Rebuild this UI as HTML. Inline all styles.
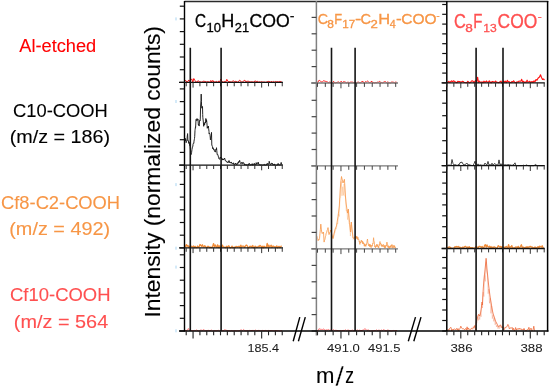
<!DOCTYPE html>
<html><head><meta charset="utf-8"><style>
html,body{margin:0;padding:0;background:#fff;}
svg{display:block;}
</style></head><body>
<svg width="550" height="388" viewBox="0 0 550 388">
<rect width="550" height="388" fill="#fff"/>
<polyline points="184.80,80.93 185.80,80.47 186.80,81.95 187.80,81.61 188.80,79.94 189.80,81.64 190.80,80.07 191.80,78.86 192.80,82.37 193.80,78.53 194.80,80.28 195.80,81.79 196.80,82.17 197.80,80.84 198.80,81.12 199.80,81.77 200.80,81.84 201.80,82.21 202.80,81.54 203.80,81.13 204.80,81.46 205.80,81.57 206.80,82.10 207.80,81.52 208.80,81.89 209.80,82.37 210.80,80.47 211.80,81.99 212.80,80.37 213.80,82.03 214.80,81.89 215.80,81.88 216.80,81.48 217.80,82.37 218.80,81.09 219.80,82.01 220.80,78.99 221.80,81.42 222.80,81.86 223.80,82.17 224.80,81.45 225.80,81.94 226.80,79.36 227.80,81.18 228.80,81.58 229.80,81.66 230.80,81.88 231.80,81.97 232.80,81.02 233.80,80.96 234.80,81.92 235.80,81.22 236.80,81.79 237.80,82.37 238.80,80.87 239.80,80.12 240.80,81.60 241.80,82.14 242.80,81.73 243.80,80.89 244.80,80.16 245.80,81.83 246.80,81.28 247.80,81.29 248.80,81.34 249.80,81.89 250.80,81.95 251.80,81.76 252.80,81.96 253.80,82.21 254.80,80.94 255.80,81.23 256.80,81.58 257.80,81.38 258.80,82.24 259.80,81.72 260.80,82.18 261.80,81.60 262.80,82.18 263.80,82.01 264.80,82.08 265.80,82.34 266.80,81.93 267.80,81.52 268.80,81.40 269.80,81.66 270.80,82.15 271.80,81.26 272.80,82.36 273.80,81.44 274.80,82.23 275.80,81.43 276.80,81.89 277.80,81.57 278.80,81.97 279.80,81.39 280.80,81.54 281.80,82.07" fill="none" stroke="#FF1010" stroke-width="1.0" stroke-linejoin="round"/>
<polyline points="184.80,139.60 185.25,141.06 185.50,138.50 185.70,139.14 186.15,142.70 186.50,141.70 186.60,141.03 187.05,140.17 187.20,137.00 187.50,134.45 187.60,133.60 187.95,140.67 188.00,140.30 188.40,140.98 188.85,143.44 189.00,142.00 189.30,142.84 189.75,145.55 190.00,144.80 190.20,146.88 190.50,150.00 190.65,152.75 191.00,154.70 191.10,154.16 191.55,152.71 192.00,149.30 192.45,147.10 192.90,146.09 193.00,144.40 193.35,143.28 193.80,143.38 194.00,141.20 194.25,139.85 194.50,138.50 194.70,136.72 195.00,130.40 195.15,129.32 195.50,126.80 195.60,127.37 196.00,119.50 196.05,119.45 196.50,120.59 196.95,118.65 197.00,118.60 197.40,120.39 197.85,118.94 198.00,119.00 198.30,124.50 198.50,124.00 198.75,125.00 199.00,126.00 199.20,126.02 199.50,121.00 199.65,120.44 200.10,121.02 200.30,118.00 200.55,108.00 200.60,106.00 201.00,100.67 201.20,94.10 201.45,101.54 201.60,106.00 201.90,108.21 202.35,106.42 202.50,106.50 202.70,114.50 202.80,117.27 203.25,121.03 203.50,124.00 203.70,126.31 204.15,123.25 204.60,125.03 204.80,122.50 205.05,122.25 205.30,122.00 205.50,123.07 205.80,118.50 205.95,118.78 206.40,122.05 206.50,119.80 206.85,122.32 207.30,128.30 207.50,127.00 207.75,126.69 208.20,128.00 208.30,126.00 208.65,128.75 209.00,131.50 209.10,134.05 209.55,133.26 210.00,134.70 210.45,139.85 210.50,138.70 210.90,137.16 211.20,136.00 211.35,136.11 211.50,132.40 211.80,145.00 212.25,146.16 212.50,146.80 212.70,148.70 213.15,147.80 213.60,149.71 214.00,149.10 214.05,149.24 214.50,151.42 214.95,151.66 215.00,151.80 215.40,151.99 215.85,149.42 216.00,149.00 216.30,149.83 216.50,147.70 216.75,150.35 217.00,153.00 217.20,154.73 217.65,154.30 218.00,155.00 218.10,156.43 218.55,156.54 219.00,159.03 219.45,159.06 219.50,159.20 219.90,158.97 220.30,157.00 220.35,157.01 220.80,158.04 221.00,157.20 221.25,157.52 221.70,159.09 222.00,158.50 222.15,158.57 222.60,160.08 223.05,158.96 223.50,160.02 223.60,159.20 223.95,158.73 224.40,158.96 224.50,158.00 224.85,158.88 225.30,160.77 225.50,160.50 225.75,160.67 226.20,161.68 226.65,161.27 226.70,161.30 227.10,162.55 227.55,162.15 227.70,162.30 228.00,162.93 228.45,161.26 228.90,161.89 229.00,160.50 229.35,161.20 229.80,162.98 230.00,162.50 230.25,162.40 230.70,163.13 231.15,162.06 231.30,162.00 231.60,163.22 232.05,162.94 232.50,163.50 232.95,164.02 233.40,162.87 233.50,162.80 233.85,164.62 234.30,164.40 234.40,164.60 234.75,165.05 235.20,163.44 235.50,163.00 235.65,163.98 236.10,163.72 236.50,164.20 236.55,164.83 237.00,163.63 237.45,164.26 237.90,162.61 238.00,162.50 238.35,163.15 238.80,161.40 239.25,162.04 239.60,160.30 239.70,160.62 240.15,162.89 240.50,163.20 240.60,163.13 241.05,163.81 241.50,162.50 241.95,162.45 242.40,163.65 242.85,162.34 243.20,162.30 243.30,163.46 243.75,162.96 244.20,163.51 244.65,165.10 245.10,164.34 245.20,164.43 245.55,165.10 246.00,164.56 246.20,164.59 246.45,165.10 246.90,164.74 247.20,164.80 247.35,165.10 247.80,164.75 248.20,164.71 248.25,165.10 248.70,163.97 249.15,163.95 249.20,163.22 249.60,163.85 250.05,165.10 250.20,164.80 250.50,164.79 250.95,165.10 251.20,164.76 251.40,164.53 251.85,165.10 252.20,163.64 252.30,163.75 252.75,165.10 253.20,164.80 253.65,164.07 254.10,164.59 254.20,163.19 254.55,163.75 255.00,165.10 255.20,164.80 255.45,164.26 255.90,164.55 256.20,162.63 256.35,162.82 256.80,164.49 257.20,163.88 257.25,163.78 257.70,163.83 258.15,162.14 258.20,162.05 258.60,164.20 259.05,163.93 259.20,164.26 259.50,165.10 259.95,164.66 260.20,164.80 260.40,165.10 260.85,164.80 261.20,164.80 261.30,165.10 261.75,164.80 262.20,164.80 262.65,165.10 263.10,164.80 263.20,164.80 263.55,165.10 264.00,164.42 264.20,164.32 264.45,165.10 264.90,164.66 265.20,164.80 265.35,165.10 265.80,164.80 266.20,164.80 266.25,165.10 266.70,164.08 267.15,164.13 267.20,163.36 267.60,163.64 268.05,164.90 268.20,164.05 268.50,163.21 268.95,162.72 269.20,161.25 269.40,161.85 269.85,164.20 270.20,164.28 270.30,164.17 270.75,164.83 271.20,163.22 271.65,163.21 272.10,164.00 272.20,163.20 272.55,163.76 273.00,165.10 273.20,164.80 273.45,164.56 273.90,165.10 274.20,163.86 274.35,164.00 274.80,165.10 275.20,164.80 275.25,164.80 275.70,165.10 276.15,164.80 276.20,164.80 276.60,165.10 277.05,164.80 277.20,164.80 277.50,165.10 277.95,163.72 278.20,163.36 278.40,164.84 278.85,164.29 279.20,164.80 279.30,165.10 279.75,164.80 280.20,164.80 280.65,164.62 281.10,162.66 281.20,162.42 281.55,164.33 282.00,164.32 282.20,164.80" fill="none" stroke="#1a1a1a" stroke-width="0.95" stroke-linejoin="round"/>
<polyline points="184.80,246.22 185.60,246.53 186.40,244.58 187.20,246.22 188.00,245.43 188.80,247.29 189.60,246.63 190.40,246.08 191.20,246.14 192.00,246.81 192.80,246.52 193.60,246.02 194.40,247.71 195.20,246.42 196.00,247.51 196.80,247.70 197.60,246.00 198.40,247.24 199.20,246.64 200.00,244.51 200.80,245.29 201.60,246.51 202.40,244.75 203.20,246.59 204.00,246.86 204.80,245.71 205.60,246.57 206.40,247.45 207.20,247.29 208.00,246.26 208.80,246.67 209.60,247.68 210.40,247.14 211.20,247.38 212.00,247.51 212.80,245.71 213.60,243.59 214.40,246.99 215.20,244.96 216.00,246.53 216.80,247.25 217.60,244.80 218.40,247.60 219.20,245.78 220.00,247.88 220.80,246.14 221.60,247.26 222.40,245.05 223.20,246.97 224.00,247.00 224.80,247.30 225.60,247.57 226.40,246.29 227.20,247.63 228.00,246.20 228.80,245.73 229.60,247.37 230.40,247.82 231.20,247.35 232.00,246.07 232.80,247.83 233.60,247.43 234.40,247.20 235.20,247.59 236.00,246.38 236.80,246.66 237.60,247.01 238.40,246.46 239.20,246.26 240.00,247.70 240.80,245.09 241.60,247.16 242.40,246.14 243.20,246.11 244.00,246.46 244.80,247.31 245.60,245.80 246.40,245.06 247.20,245.78 248.00,247.80 248.80,247.62 249.60,246.43 250.40,246.37 251.20,246.26 252.00,247.42 252.80,245.53 253.60,247.87 254.40,247.65 255.20,246.18 256.00,246.69 256.80,247.46 257.60,247.17 258.40,246.20 259.20,246.74 260.00,245.40 260.80,246.00 261.60,247.59 262.40,246.21 263.20,247.88 264.00,246.08 264.80,247.04 265.60,247.06 266.40,247.22 267.20,243.35 268.00,247.15 268.80,245.09 269.60,246.95 270.40,246.19 271.20,245.21 272.00,247.47 272.80,246.06 273.60,246.14 274.40,246.80 275.20,246.79 276.00,247.16 276.80,245.91 277.60,247.89 278.40,246.70 279.20,246.33 280.00,247.73 280.80,246.64 281.60,245.73" fill="none" stroke="#F08C38" stroke-width="1.3" stroke-linejoin="round"/>
<polyline points="184.80,330.55 186.00,330.43 187.20,330.45 188.40,328.49 189.60,330.46 190.80,330.14 192.00,330.85 193.20,330.66 194.40,330.45 195.60,330.54 196.80,329.89 198.00,330.92 199.20,330.92 200.40,330.17 201.60,330.15 202.80,330.48 204.00,329.51 205.20,330.88 206.40,330.59 207.60,330.46 208.80,330.33 210.00,330.90 211.20,329.90 212.40,331.00 213.60,330.80 214.80,330.51 216.00,330.81 217.20,330.58 218.40,330.30 219.60,330.99 220.80,330.49 222.00,330.40 223.20,330.99 224.40,329.76 225.60,330.03 226.80,330.44 228.00,330.79 229.20,330.69 230.40,330.94 231.60,330.52 232.80,330.98 234.00,330.95 235.20,330.63 236.40,330.80 237.60,330.67 238.80,330.81 240.00,330.43 241.20,329.78 242.40,330.90 243.60,329.49 244.80,330.68 246.00,330.86 247.20,330.50 248.40,330.75 249.60,330.40 250.80,330.50 252.00,330.48 253.20,330.43 254.40,330.53 255.60,330.13 256.80,330.82 258.00,330.40 259.20,330.41 260.40,330.71 261.60,330.71 262.80,330.40 264.00,330.91 265.20,330.41 266.40,330.62 267.60,330.80 268.80,330.38 270.00,330.78 271.20,330.54 272.40,330.60 273.60,330.78 274.80,330.83 276.00,330.54 277.20,330.82 278.40,330.61 279.60,330.99 280.80,330.85 282.00,330.72" fill="none" stroke="#ff5a5a" stroke-width="0.8" stroke-linejoin="round"/>
<polyline points="316.60,82.18 317.60,82.74 318.60,80.70 319.60,80.35 320.60,81.39 321.60,81.97 322.60,81.72 323.60,80.79 324.60,81.05 325.60,81.39 326.60,81.66 327.60,82.05 328.60,82.64 329.60,82.09 330.60,82.36 331.60,82.19 332.60,82.97 333.60,81.39 334.60,82.70 335.60,82.91 336.60,82.47 337.60,82.19 338.60,81.94 339.60,82.86 340.60,81.68 341.60,81.56 342.60,82.98 343.60,81.57 344.60,81.89 345.60,82.24 346.60,82.95 347.60,82.25 348.60,82.30 349.60,82.75 350.60,82.11 351.60,82.11 352.60,82.17 353.60,82.48 354.60,82.29 355.60,82.91 356.60,82.73 357.60,82.22 358.60,82.14 359.60,82.64 360.60,82.54 361.60,82.07 362.60,81.03 363.60,82.73 364.60,82.52 365.60,81.61 366.60,82.04 367.60,81.07 368.60,82.03 369.60,82.62 370.60,82.68 371.60,81.01 372.60,82.71 373.60,82.48 374.60,82.94 375.60,82.54 376.60,82.64 377.60,82.15 378.60,82.17 379.60,81.43 380.60,82.22 381.60,82.51 382.60,82.90 383.60,82.20 384.60,81.73 385.60,81.73 386.60,82.90 387.60,81.99 388.60,82.37 389.60,82.87 390.60,82.92 391.60,82.09 392.60,82.11 393.60,82.31 394.60,82.86 395.60,82.09 396.60,82.22" fill="none" stroke="#FF1010" stroke-width="1.0" stroke-linejoin="round"/>
<polyline points="316.80,236.00 317.25,237.87 317.70,238.57 318.15,240.70 318.20,240.00 318.60,239.57 319.05,239.90 319.50,238.60 319.95,233.58 320.40,229.30 320.80,224.10 320.85,224.54 321.30,229.06 321.75,232.36 321.80,232.80 322.20,233.56 322.65,232.50 323.10,233.25 323.50,232.20 323.55,233.03 324.00,241.21 324.10,242.10 324.45,240.61 324.90,239.44 325.35,236.77 325.80,235.47 326.00,234.00 326.25,233.20 326.70,232.26 327.15,230.32 327.60,229.57 328.00,227.60 328.05,227.95 328.50,231.89 328.95,234.25 329.00,234.60 329.40,233.91 329.85,231.99 330.30,231.51 330.50,230.00 330.75,230.75 331.20,232.72 331.50,233.00" fill="none" stroke="#F79646" stroke-width="0.8" stroke-linejoin="round"/>
<polyline points="331.50,233.56 332.20,237.33 332.90,238.30 333.60,237.65 334.30,232.60 335.00,232.75 335.70,228.46 336.40,229.03 337.10,223.11 337.80,223.76 338.50,213.86 339.20,216.48 339.90,198.62 340.60,197.56 341.30,181.37 342.00,195.83 342.70,186.71 343.40,195.46 344.10,183.98 344.80,196.27 345.50,196.68 346.20,211.03 346.90,210.45 347.60,219.66 348.30,209.82 349.00,223.47 349.70,224.36 350.40,236.05 351.10,225.03 351.80,231.91 352.50,233.12 353.20,239.43 353.90,238.00 354.60,239.56 355.30,236.61" fill="none" stroke="#F79646" stroke-width="0.5" stroke-linejoin="round" stroke-opacity="0.6"/>
<polyline points="331.50,233.00 333.00,238.60 335.00,229.30 336.50,225.90 338.00,216.60 339.30,206.00 340.20,190.00 340.80,182.00 341.50,176.50 342.30,180.00 343.00,183.00 343.80,181.00 344.40,179.30 345.00,188.00 345.60,198.00 346.20,204.00 347.50,213.10 348.30,209.00 349.50,222.40 350.50,232.00 351.30,222.00 352.20,230.00 353.00,238.00 354.50,238.00 355.50,235.90" fill="none" stroke="#F79646" stroke-width="0.8" stroke-linejoin="round"/>
<polyline points="355.50,235.90 355.90,238.20 356.30,236.22 356.70,238.59 357.00,236.50 357.10,236.58 357.50,239.44 357.90,237.22 358.00,237.30 358.30,239.67 358.70,239.19 359.00,240.00 359.10,241.61 359.50,241.15 359.90,244.44 360.00,242.30 360.30,241.84 360.70,242.96 361.10,240.61 361.50,240.00 361.90,242.26 362.30,240.96 362.70,243.80 363.00,241.80 363.10,241.95 363.50,244.07 363.90,243.12 364.30,246.19 364.50,244.00 364.70,244.13 365.10,246.34 365.50,244.67 365.90,246.33 366.00,245.00 366.30,243.80 366.70,244.69 367.10,240.60 367.50,239.00 367.90,243.24 368.30,243.40 368.50,244.50 368.70,245.84 369.10,244.30 369.50,246.56 369.90,244.03 370.00,244.00 370.30,246.71 370.70,244.93 371.10,247.73 371.50,246.00 371.90,245.08 372.30,246.31 372.70,243.23 372.80,243.00 373.10,243.60 373.50,238.36 373.60,237.70 373.90,240.79 374.30,241.85 374.70,246.79 375.00,246.00 375.10,245.95 375.50,247.89 375.90,245.55 376.00,245.50 376.30,246.68 376.70,244.45 377.00,244.00 377.10,246.26 377.50,244.83 377.90,247.24 378.30,246.17 378.50,246.50 378.70,247.98 379.10,244.50 379.50,245.38 379.90,241.83 380.00,241.50 380.30,244.23 380.70,243.25 381.00,244.00 381.10,245.53 381.50,244.50 381.90,246.71 382.00,245.00 382.30,244.90 382.70,246.46 383.10,244.63 383.50,244.50 383.90,247.17 384.30,245.30 384.70,248.21 385.00,246.00 385.10,245.90 385.50,247.81 385.90,245.10 386.00,245.00 386.30,246.09 386.70,242.90 387.00,242.00 387.10,243.87 387.50,243.75 387.90,247.37 388.00,245.50 388.30,245.80 388.70,247.84 389.00,246.50 389.10,246.45 389.50,248.80 389.90,246.05 390.00,246.00 390.30,247.30 390.70,245.48 391.10,247.73 391.50,244.88 391.90,245.89 392.00,244.50 392.30,245.10 392.70,248.21 393.00,246.50 393.10,246.35 393.50,247.50 393.90,245.15 394.00,245.00 394.30,247.45 394.70,245.93 395.10,248.31 395.50,247.00" fill="none" stroke="#F79646" stroke-width="0.7" stroke-linejoin="round"/>
<polyline points="316.60,330.20 317.80,330.95 319.00,328.70 320.20,329.23 321.40,329.39 322.60,329.49 323.80,328.89 325.00,330.47 326.20,329.85 327.40,329.99 328.60,329.53 329.80,330.40 331.00,329.79 332.20,330.71 333.40,329.61 334.60,330.47 335.80,330.25 337.00,330.47 338.20,330.57 339.40,330.58 340.60,330.49 341.80,330.88 343.00,330.24 344.20,330.69 345.40,329.82 346.60,330.87 347.80,330.06 349.00,330.25 350.20,330.77 351.40,330.47 352.60,330.07 353.80,330.90 355.00,330.42 356.20,330.53 357.40,329.93 358.60,330.79 359.80,330.07 361.00,330.73 362.20,330.24 363.40,330.25 364.60,328.72 365.80,329.20 367.00,330.48 368.20,329.81 369.40,330.79 370.60,331.00 371.80,330.87 373.00,330.98 374.20,330.54 375.40,330.65 376.60,329.92 377.80,330.74 379.00,329.86 380.20,330.91 381.40,330.02 382.60,330.73 383.80,329.41 385.00,330.72 386.20,330.78 387.40,330.12 388.60,330.24 389.80,330.58 391.00,330.99 392.20,330.74 393.40,330.47 394.60,330.55 395.80,330.58 397.00,330.47" fill="none" stroke="#ff5a5a" stroke-width="0.8" stroke-linejoin="round"/>
<polyline points="447.00,82.23 447.90,82.39 448.80,81.28 449.70,82.37 450.60,81.79 451.50,80.80 452.40,81.59 453.30,80.89 454.20,81.13 455.10,81.84 456.00,82.21 456.90,82.72 457.80,81.36 458.70,81.59 459.60,81.49 460.50,81.88 461.40,82.13 462.30,81.32 463.20,81.57 464.10,82.17 465.00,82.48 465.90,82.70 466.80,82.68 467.70,81.29 468.60,81.87 469.50,82.87 470.40,82.47 471.30,81.24 472.20,80.78 473.10,81.22 474.00,82.59 474.90,81.18 475.80,80.57 476.70,81.81 477.60,77.22 478.50,82.33 479.40,81.19 480.30,82.16 481.20,82.21 482.10,81.84 483.00,82.74 483.90,81.19 484.80,82.18 485.70,81.87 486.60,81.00 487.50,82.31 488.40,82.13 489.30,80.92 490.20,82.02 491.10,82.85 492.00,81.45 492.90,81.62 493.80,81.99 494.70,82.13 495.60,81.02 496.50,82.16 497.40,82.24 498.30,82.59 499.20,82.43 500.10,81.59 501.00,81.12 501.90,82.88 502.80,82.36 503.70,80.92 504.60,82.26 505.50,81.17 506.40,82.65 507.30,80.33 508.20,81.70 509.10,81.63 510.00,82.21 510.90,82.60 511.80,81.51 512.70,82.01 513.60,80.74 514.50,81.95 515.40,82.75 516.30,82.50 517.20,81.76 518.10,82.20 519.00,81.02 519.90,81.20 520.80,81.21 521.70,79.36 522.60,81.96 523.50,81.26 524.40,82.36 525.30,81.92 526.20,82.12 527.10,80.13 528.00,82.08 528.90,81.75 529.80,81.34 530.70,82.48 532.00,81.50 533.00,82.50 534.00,80.80 535.00,81.80 536.00,79.50 537.00,80.20 538.00,78.20 539.50,77.00 540.50,74.70 541.50,77.50 542.50,79.50 543.50,79.00 544.50,80.00" fill="none" stroke="#FF1010" stroke-width="1.1" stroke-linejoin="round"/>
<polyline points="447.00,165.19 448.00,165.45 449.00,164.71 450.00,165.51 451.00,165.31 452.00,159.50 453.00,163.53 454.00,164.98 455.00,164.73 456.00,164.88 457.00,165.54 458.00,164.52 459.00,164.96 460.00,162.66 461.00,162.45 462.00,162.11 463.00,164.05 464.00,165.18 465.00,164.37 466.00,164.14 467.00,163.14 468.00,164.91 469.00,164.67 470.00,165.04 471.00,165.25 472.00,165.56 473.00,165.58 474.00,163.76 475.00,161.21 476.00,165.26 477.00,165.49 478.00,163.86 479.00,165.50 480.00,164.71 481.00,165.12 482.00,165.13 483.00,165.30 484.00,165.23 485.00,163.05 486.00,164.54 487.00,164.89 488.00,161.40 489.00,164.98 490.00,164.67 491.00,165.15 492.00,163.21 493.00,165.11 494.00,164.16 495.00,163.47 496.00,164.94 497.00,164.73 498.00,165.17 499.00,159.89 500.00,165.15 501.00,163.69 502.00,165.16 503.00,164.62 504.00,165.19 505.00,164.61 506.00,165.10 507.00,164.93 508.00,164.70 509.00,164.73 510.00,165.18 511.00,164.84 512.00,165.64 513.00,164.78 514.00,164.52 515.00,162.81 516.00,165.70 517.50,165.70 519.00,165.70 520.50,165.70 522.00,165.70 523.50,165.19 525.00,165.70 526.50,164.97 528.00,165.70 529.50,165.70 531.00,165.70 532.50,165.70 534.00,165.70 535.50,164.46 537.00,165.70 538.50,165.70 540.00,165.70 541.50,165.70 543.00,165.70" fill="none" stroke="#222" stroke-width="0.85" stroke-linejoin="round"/>
<polyline points="447.00,247.05 447.80,248.19 448.60,247.20 449.40,246.98 450.20,247.27 451.00,248.18 451.80,248.14 452.60,248.37 453.40,248.34 454.20,247.76 455.00,246.65 455.80,247.19 456.60,246.46 457.40,247.13 458.20,246.42 459.00,247.34 459.80,247.13 460.60,247.70 461.40,248.39 462.20,247.45 463.00,247.19 463.80,247.65 464.60,246.62 465.40,246.37 466.20,247.04 467.00,247.70 467.80,247.02 468.60,247.96 469.40,246.72 470.20,248.44 471.00,247.55 471.80,248.01 472.60,247.65 473.40,248.27 474.20,248.11 475.00,248.42 475.80,246.59 476.60,247.10 477.40,247.04 478.20,247.82 479.00,246.39 479.80,246.40 480.60,246.75 481.40,247.40 482.20,246.49 483.00,247.79 483.80,247.97 484.60,245.37 485.40,244.73 486.20,247.39 487.00,244.97 487.80,246.77 488.60,247.09 489.40,246.30 490.20,247.92 491.00,246.53 491.80,247.79 492.60,247.20 493.40,247.37 494.20,246.95 495.00,247.18 495.80,248.02 496.60,248.21 497.40,247.58 498.20,245.67 499.00,246.35 499.80,247.13 500.60,246.38 501.40,247.58 502.20,246.52 503.00,247.22 503.80,247.69 504.60,247.26 505.40,247.24 506.20,246.53 507.00,247.32 507.80,247.67 508.60,244.75 509.40,247.81 510.20,246.98 511.00,247.13 511.80,245.67 512.60,247.96 513.40,247.79 514.20,248.19 515.00,247.57 515.80,246.97 516.60,247.05 517.40,247.70 518.20,246.37 519.00,247.97 519.80,247.75 520.60,246.30 521.40,244.71 522.20,247.88 523.00,247.07 523.80,247.40 524.60,248.14 525.40,247.17 526.20,247.95 527.00,246.62 527.80,248.00 528.60,246.83 529.40,247.02 530.20,246.36 531.00,247.00 531.80,246.89 532.60,247.40 533.40,247.82 534.20,247.64 535.00,246.93 535.80,247.77 536.60,247.87 537.40,247.18 538.20,246.58 539.00,247.79 539.80,246.15 540.60,246.77 541.40,247.14 542.20,245.72 543.00,247.66 543.80,247.62" fill="none" stroke="#F08C38" stroke-width="1.3" stroke-linejoin="round"/>
<polyline points="447.50,330.64 448.20,329.32 448.90,330.59 449.60,328.32 450.30,327.70 451.00,327.37 451.70,330.87 452.40,329.47 453.10,330.16 453.80,329.05 454.50,328.99 455.20,329.53 455.90,329.41 456.60,328.46 457.30,330.19 458.00,328.52 458.70,330.63 459.40,329.26 460.10,328.25 460.80,326.15 461.50,328.02 462.20,328.62 462.90,328.74 463.60,328.72 464.30,329.59 465.00,329.46 465.70,328.43 466.40,330.08 467.10,326.83 467.80,329.67 468.50,327.96 469.20,329.63 469.90,330.09 470.60,329.85 471.30,328.26 472.00,328.51 472.70,329.22 473.40,326.76 474.10,327.61 474.80,325.45 475.50,330.09 476.20,322.00" fill="none" stroke="#EE6A3A" stroke-width="0.8" stroke-linejoin="round"/>
<polyline points="476.20,322.53 476.90,323.19 477.60,317.13 478.30,320.40 479.00,315.31 479.70,319.57 480.40,313.47 481.10,316.81 481.80,304.07 482.50,307.99 483.20,292.10 483.90,296.55 484.60,275.43 485.30,281.40 486.00,261.62 486.70,271.74 487.40,274.62 488.10,293.68 488.80,289.04 489.50,303.28 490.20,298.25 490.90,313.33 491.60,305.98 492.30,318.63 493.00,314.90 493.70,321.39 494.40,318.03 495.10,324.78 495.80,322.33 496.50,326.95 497.20,325.09 497.90,328.65 498.60,327.06 499.30,328.72 500.00,325.45 500.70,327.39 501.40,327.08" fill="none" stroke="#EE6A3A" stroke-width="0.5" stroke-linejoin="round" stroke-opacity="0.55"/>
<polyline points="476.20,322.00 477.50,317.20 478.50,314.30 479.60,316.00 480.50,313.00 481.30,308.00 482.00,302.00 482.40,305.00 482.80,296.00 483.30,288.00 483.80,281.00 484.30,276.00 484.90,271.00 485.40,266.00 485.80,262.00 486.10,258.30 486.50,263.00 486.90,268.00 487.40,273.00 488.00,279.00 488.50,284.00 489.10,289.00 489.60,293.00 490.30,298.00 491.00,302.00 491.80,307.00 492.50,311.00 493.20,314.00 494.60,318.00 495.50,321.00 496.50,323.00 497.40,324.40 498.50,327.00 499.50,326.00 500.50,324.80 502.00,328.00" fill="none" stroke="#EE6A3A" stroke-width="0.8" stroke-linejoin="round"/>
<polyline points="502.00,328.00 503.00,326.51 503.70,329.47 504.40,329.52 505.10,327.12 505.80,327.60 506.50,327.15 507.20,326.04 507.90,324.42 508.60,325.58 509.30,328.78 510.00,327.81 510.70,328.09 511.40,328.20 512.10,327.35 512.80,330.04 513.50,328.30 514.20,330.53 514.90,330.38 515.60,327.52 516.30,329.99 517.00,328.60 517.70,329.23 518.40,329.34 519.10,328.06 519.80,329.34 520.50,328.93 521.20,328.76 521.90,330.01 522.60,329.64 523.30,330.01 524.00,328.39 524.70,330.01 525.40,330.53 526.10,330.76 526.80,330.08 527.50,329.44 528.20,329.66 528.90,327.30 529.60,330.27 530.30,329.59 531.00,328.12 531.70,330.64 532.40,330.40 533.10,329.65 533.80,326.22 534.50,330.66" fill="none" stroke="#EE6A3A" stroke-width="0.8" stroke-linejoin="round"/>
<line x1="184.50" y1="1.50" x2="548.30" y2="1.50" stroke="#2a2a2a" stroke-width="1.3"/>
<line x1="184.50" y1="1.00" x2="184.50" y2="331.60" stroke="#000" stroke-width="1.4"/>
<line x1="179.80" y1="82.40" x2="184.50" y2="82.40" stroke="#111" stroke-width="1.2"/>
<line x1="179.80" y1="69.70" x2="184.50" y2="69.70" stroke="#111" stroke-width="1.2"/>
<line x1="179.80" y1="57.00" x2="184.50" y2="57.00" stroke="#111" stroke-width="1.2"/>
<line x1="179.80" y1="44.30" x2="184.50" y2="44.30" stroke="#111" stroke-width="1.2"/>
<line x1="179.80" y1="31.60" x2="184.50" y2="31.60" stroke="#111" stroke-width="1.2"/>
<line x1="179.80" y1="18.90" x2="184.50" y2="18.90" stroke="#111" stroke-width="1.2"/>
<line x1="179.80" y1="6.20" x2="184.50" y2="6.20" stroke="#111" stroke-width="1.2"/>
<line x1="179.80" y1="165.10" x2="184.50" y2="165.10" stroke="#111" stroke-width="1.2"/>
<line x1="179.80" y1="152.40" x2="184.50" y2="152.40" stroke="#111" stroke-width="1.2"/>
<line x1="179.80" y1="139.70" x2="184.50" y2="139.70" stroke="#111" stroke-width="1.2"/>
<line x1="179.80" y1="127.00" x2="184.50" y2="127.00" stroke="#111" stroke-width="1.2"/>
<line x1="179.80" y1="114.30" x2="184.50" y2="114.30" stroke="#111" stroke-width="1.2"/>
<line x1="179.80" y1="101.60" x2="184.50" y2="101.60" stroke="#111" stroke-width="1.2"/>
<line x1="179.80" y1="88.90" x2="184.50" y2="88.90" stroke="#111" stroke-width="1.2"/>
<line x1="179.80" y1="247.90" x2="184.50" y2="247.90" stroke="#111" stroke-width="1.2"/>
<line x1="179.80" y1="235.20" x2="184.50" y2="235.20" stroke="#111" stroke-width="1.2"/>
<line x1="179.80" y1="222.50" x2="184.50" y2="222.50" stroke="#111" stroke-width="1.2"/>
<line x1="179.80" y1="209.80" x2="184.50" y2="209.80" stroke="#111" stroke-width="1.2"/>
<line x1="179.80" y1="197.10" x2="184.50" y2="197.10" stroke="#111" stroke-width="1.2"/>
<line x1="179.80" y1="184.40" x2="184.50" y2="184.40" stroke="#111" stroke-width="1.2"/>
<line x1="179.80" y1="171.70" x2="184.50" y2="171.70" stroke="#111" stroke-width="1.2"/>
<line x1="179.80" y1="331.00" x2="184.50" y2="331.00" stroke="#111" stroke-width="1.2"/>
<line x1="179.80" y1="318.30" x2="184.50" y2="318.30" stroke="#111" stroke-width="1.2"/>
<line x1="179.80" y1="305.60" x2="184.50" y2="305.60" stroke="#111" stroke-width="1.2"/>
<line x1="179.80" y1="292.90" x2="184.50" y2="292.90" stroke="#111" stroke-width="1.2"/>
<line x1="179.80" y1="280.20" x2="184.50" y2="280.20" stroke="#111" stroke-width="1.2"/>
<line x1="179.80" y1="267.50" x2="184.50" y2="267.50" stroke="#111" stroke-width="1.2"/>
<line x1="179.80" y1="254.80" x2="184.50" y2="254.80" stroke="#111" stroke-width="1.2"/>
<line x1="179.00" y1="82.40" x2="283.00" y2="82.40" stroke="#111" stroke-width="1.3"/>
<line x1="186.20" y1="82.40" x2="186.20" y2="86.30" stroke="#333" stroke-width="1.0"/>
<line x1="193.06" y1="82.40" x2="193.06" y2="87.60" stroke="#333" stroke-width="1.0"/>
<line x1="199.92" y1="82.40" x2="199.92" y2="86.30" stroke="#333" stroke-width="1.0"/>
<line x1="206.78" y1="82.40" x2="206.78" y2="86.30" stroke="#333" stroke-width="1.0"/>
<line x1="213.64" y1="82.40" x2="213.64" y2="86.30" stroke="#333" stroke-width="1.0"/>
<line x1="220.50" y1="82.40" x2="220.50" y2="86.30" stroke="#333" stroke-width="1.0"/>
<line x1="227.36" y1="82.40" x2="227.36" y2="86.30" stroke="#333" stroke-width="1.0"/>
<line x1="234.22" y1="82.40" x2="234.22" y2="86.30" stroke="#333" stroke-width="1.0"/>
<line x1="241.08" y1="82.40" x2="241.08" y2="86.30" stroke="#333" stroke-width="1.0"/>
<line x1="247.94" y1="82.40" x2="247.94" y2="86.30" stroke="#333" stroke-width="1.0"/>
<line x1="254.80" y1="82.40" x2="254.80" y2="86.30" stroke="#333" stroke-width="1.0"/>
<line x1="261.66" y1="82.40" x2="261.66" y2="87.60" stroke="#333" stroke-width="1.0"/>
<line x1="268.52" y1="82.40" x2="268.52" y2="86.30" stroke="#333" stroke-width="1.0"/>
<line x1="275.38" y1="82.40" x2="275.38" y2="86.30" stroke="#333" stroke-width="1.0"/>
<line x1="282.24" y1="82.40" x2="282.24" y2="86.30" stroke="#333" stroke-width="1.0"/>
<line x1="179.00" y1="165.10" x2="283.00" y2="165.10" stroke="#111" stroke-width="1.3"/>
<line x1="186.20" y1="165.10" x2="186.20" y2="169.00" stroke="#333" stroke-width="1.0"/>
<line x1="193.06" y1="165.10" x2="193.06" y2="170.30" stroke="#333" stroke-width="1.0"/>
<line x1="199.92" y1="165.10" x2="199.92" y2="169.00" stroke="#333" stroke-width="1.0"/>
<line x1="206.78" y1="165.10" x2="206.78" y2="169.00" stroke="#333" stroke-width="1.0"/>
<line x1="213.64" y1="165.10" x2="213.64" y2="169.00" stroke="#333" stroke-width="1.0"/>
<line x1="220.50" y1="165.10" x2="220.50" y2="169.00" stroke="#333" stroke-width="1.0"/>
<line x1="227.36" y1="165.10" x2="227.36" y2="169.00" stroke="#333" stroke-width="1.0"/>
<line x1="234.22" y1="165.10" x2="234.22" y2="169.00" stroke="#333" stroke-width="1.0"/>
<line x1="241.08" y1="165.10" x2="241.08" y2="169.00" stroke="#333" stroke-width="1.0"/>
<line x1="247.94" y1="165.10" x2="247.94" y2="169.00" stroke="#333" stroke-width="1.0"/>
<line x1="254.80" y1="165.10" x2="254.80" y2="169.00" stroke="#333" stroke-width="1.0"/>
<line x1="261.66" y1="165.10" x2="261.66" y2="170.30" stroke="#333" stroke-width="1.0"/>
<line x1="268.52" y1="165.10" x2="268.52" y2="169.00" stroke="#333" stroke-width="1.0"/>
<line x1="275.38" y1="165.10" x2="275.38" y2="169.00" stroke="#333" stroke-width="1.0"/>
<line x1="282.24" y1="165.10" x2="282.24" y2="169.00" stroke="#333" stroke-width="1.0"/>
<line x1="179.00" y1="247.90" x2="283.00" y2="247.90" stroke="#111" stroke-width="1.3"/>
<line x1="186.20" y1="247.90" x2="186.20" y2="251.80" stroke="#333" stroke-width="1.0"/>
<line x1="193.06" y1="247.90" x2="193.06" y2="253.10" stroke="#333" stroke-width="1.0"/>
<line x1="199.92" y1="247.90" x2="199.92" y2="251.80" stroke="#333" stroke-width="1.0"/>
<line x1="206.78" y1="247.90" x2="206.78" y2="251.80" stroke="#333" stroke-width="1.0"/>
<line x1="213.64" y1="247.90" x2="213.64" y2="251.80" stroke="#333" stroke-width="1.0"/>
<line x1="220.50" y1="247.90" x2="220.50" y2="251.80" stroke="#333" stroke-width="1.0"/>
<line x1="227.36" y1="247.90" x2="227.36" y2="251.80" stroke="#333" stroke-width="1.0"/>
<line x1="234.22" y1="247.90" x2="234.22" y2="251.80" stroke="#333" stroke-width="1.0"/>
<line x1="241.08" y1="247.90" x2="241.08" y2="251.80" stroke="#333" stroke-width="1.0"/>
<line x1="247.94" y1="247.90" x2="247.94" y2="251.80" stroke="#333" stroke-width="1.0"/>
<line x1="254.80" y1="247.90" x2="254.80" y2="251.80" stroke="#333" stroke-width="1.0"/>
<line x1="261.66" y1="247.90" x2="261.66" y2="253.10" stroke="#333" stroke-width="1.0"/>
<line x1="268.52" y1="247.90" x2="268.52" y2="251.80" stroke="#333" stroke-width="1.0"/>
<line x1="275.38" y1="247.90" x2="275.38" y2="251.80" stroke="#333" stroke-width="1.0"/>
<line x1="282.24" y1="247.90" x2="282.24" y2="251.80" stroke="#333" stroke-width="1.0"/>
<line x1="316.40" y1="1.00" x2="316.40" y2="335.50" stroke="#808080" stroke-width="1.5"/>
<line x1="311.60" y1="83.00" x2="316.40" y2="83.00" stroke="#444" stroke-width="1.2"/>
<line x1="311.60" y1="66.60" x2="316.40" y2="66.60" stroke="#444" stroke-width="1.2"/>
<line x1="311.60" y1="50.20" x2="316.40" y2="50.20" stroke="#444" stroke-width="1.2"/>
<line x1="311.60" y1="33.80" x2="316.40" y2="33.80" stroke="#444" stroke-width="1.2"/>
<line x1="311.60" y1="17.40" x2="316.40" y2="17.40" stroke="#444" stroke-width="1.2"/>
<line x1="311.60" y1="165.90" x2="316.40" y2="165.90" stroke="#444" stroke-width="1.2"/>
<line x1="311.60" y1="149.50" x2="316.40" y2="149.50" stroke="#444" stroke-width="1.2"/>
<line x1="311.60" y1="133.10" x2="316.40" y2="133.10" stroke="#444" stroke-width="1.2"/>
<line x1="311.60" y1="116.70" x2="316.40" y2="116.70" stroke="#444" stroke-width="1.2"/>
<line x1="311.60" y1="100.30" x2="316.40" y2="100.30" stroke="#444" stroke-width="1.2"/>
<line x1="311.60" y1="248.80" x2="316.40" y2="248.80" stroke="#444" stroke-width="1.2"/>
<line x1="311.60" y1="232.40" x2="316.40" y2="232.40" stroke="#444" stroke-width="1.2"/>
<line x1="311.60" y1="216.00" x2="316.40" y2="216.00" stroke="#444" stroke-width="1.2"/>
<line x1="311.60" y1="199.60" x2="316.40" y2="199.60" stroke="#444" stroke-width="1.2"/>
<line x1="311.60" y1="183.20" x2="316.40" y2="183.20" stroke="#444" stroke-width="1.2"/>
<line x1="311.60" y1="331.00" x2="316.40" y2="331.00" stroke="#444" stroke-width="1.2"/>
<line x1="311.60" y1="314.60" x2="316.40" y2="314.60" stroke="#444" stroke-width="1.2"/>
<line x1="311.60" y1="298.20" x2="316.40" y2="298.20" stroke="#444" stroke-width="1.2"/>
<line x1="311.60" y1="281.80" x2="316.40" y2="281.80" stroke="#444" stroke-width="1.2"/>
<line x1="311.60" y1="265.40" x2="316.40" y2="265.40" stroke="#444" stroke-width="1.2"/>
<line x1="311.20" y1="83.00" x2="398.00" y2="83.00" stroke="#7a7a7a" stroke-width="1.3"/>
<line x1="317.50" y1="83.00" x2="317.50" y2="86.90" stroke="#444" stroke-width="1.0"/>
<line x1="325.32" y1="83.00" x2="325.32" y2="86.90" stroke="#444" stroke-width="1.0"/>
<line x1="333.14" y1="83.00" x2="333.14" y2="86.90" stroke="#444" stroke-width="1.0"/>
<line x1="340.96" y1="83.00" x2="340.96" y2="88.30" stroke="#444" stroke-width="1.0"/>
<line x1="348.78" y1="83.00" x2="348.78" y2="86.90" stroke="#444" stroke-width="1.0"/>
<line x1="356.60" y1="83.00" x2="356.60" y2="86.90" stroke="#444" stroke-width="1.0"/>
<line x1="364.42" y1="83.00" x2="364.42" y2="86.90" stroke="#444" stroke-width="1.0"/>
<line x1="372.24" y1="83.00" x2="372.24" y2="86.90" stroke="#444" stroke-width="1.0"/>
<line x1="380.06" y1="83.00" x2="380.06" y2="86.90" stroke="#444" stroke-width="1.0"/>
<line x1="387.88" y1="83.00" x2="387.88" y2="86.90" stroke="#444" stroke-width="1.0"/>
<line x1="395.70" y1="83.00" x2="395.70" y2="86.90" stroke="#444" stroke-width="1.0"/>
<line x1="311.20" y1="165.90" x2="398.00" y2="165.90" stroke="#7a7a7a" stroke-width="1.3"/>
<line x1="317.50" y1="165.90" x2="317.50" y2="169.80" stroke="#444" stroke-width="1.0"/>
<line x1="325.32" y1="165.90" x2="325.32" y2="169.80" stroke="#444" stroke-width="1.0"/>
<line x1="333.14" y1="165.90" x2="333.14" y2="169.80" stroke="#444" stroke-width="1.0"/>
<line x1="340.96" y1="165.90" x2="340.96" y2="171.20" stroke="#444" stroke-width="1.0"/>
<line x1="348.78" y1="165.90" x2="348.78" y2="169.80" stroke="#444" stroke-width="1.0"/>
<line x1="356.60" y1="165.90" x2="356.60" y2="169.80" stroke="#444" stroke-width="1.0"/>
<line x1="364.42" y1="165.90" x2="364.42" y2="169.80" stroke="#444" stroke-width="1.0"/>
<line x1="372.24" y1="165.90" x2="372.24" y2="169.80" stroke="#444" stroke-width="1.0"/>
<line x1="380.06" y1="165.90" x2="380.06" y2="169.80" stroke="#444" stroke-width="1.0"/>
<line x1="387.88" y1="165.90" x2="387.88" y2="169.80" stroke="#444" stroke-width="1.0"/>
<line x1="395.70" y1="165.90" x2="395.70" y2="169.80" stroke="#444" stroke-width="1.0"/>
<line x1="311.20" y1="248.80" x2="398.00" y2="248.80" stroke="#7a7a7a" stroke-width="1.3"/>
<line x1="317.50" y1="248.80" x2="317.50" y2="252.70" stroke="#444" stroke-width="1.0"/>
<line x1="325.32" y1="248.80" x2="325.32" y2="252.70" stroke="#444" stroke-width="1.0"/>
<line x1="333.14" y1="248.80" x2="333.14" y2="252.70" stroke="#444" stroke-width="1.0"/>
<line x1="340.96" y1="248.80" x2="340.96" y2="254.10" stroke="#444" stroke-width="1.0"/>
<line x1="348.78" y1="248.80" x2="348.78" y2="252.70" stroke="#444" stroke-width="1.0"/>
<line x1="356.60" y1="248.80" x2="356.60" y2="252.70" stroke="#444" stroke-width="1.0"/>
<line x1="364.42" y1="248.80" x2="364.42" y2="252.70" stroke="#444" stroke-width="1.0"/>
<line x1="372.24" y1="248.80" x2="372.24" y2="252.70" stroke="#444" stroke-width="1.0"/>
<line x1="380.06" y1="248.80" x2="380.06" y2="252.70" stroke="#444" stroke-width="1.0"/>
<line x1="387.88" y1="248.80" x2="387.88" y2="252.70" stroke="#444" stroke-width="1.0"/>
<line x1="395.70" y1="248.80" x2="395.70" y2="252.70" stroke="#444" stroke-width="1.0"/>
<line x1="446.80" y1="1.00" x2="446.80" y2="331.60" stroke="#000" stroke-width="1.5"/>
<line x1="547.60" y1="1.00" x2="547.60" y2="331.60" stroke="#000" stroke-width="1.5"/>
<line x1="442.20" y1="82.90" x2="446.80" y2="82.90" stroke="#111" stroke-width="1.2"/>
<line x1="442.20" y1="73.10" x2="446.80" y2="73.10" stroke="#111" stroke-width="1.2"/>
<line x1="442.20" y1="63.30" x2="446.80" y2="63.30" stroke="#111" stroke-width="1.2"/>
<line x1="442.20" y1="53.50" x2="446.80" y2="53.50" stroke="#111" stroke-width="1.2"/>
<line x1="442.20" y1="43.70" x2="446.80" y2="43.70" stroke="#111" stroke-width="1.2"/>
<line x1="442.20" y1="33.90" x2="446.80" y2="33.90" stroke="#111" stroke-width="1.2"/>
<line x1="442.20" y1="24.10" x2="446.80" y2="24.10" stroke="#111" stroke-width="1.2"/>
<line x1="442.20" y1="14.30" x2="446.80" y2="14.30" stroke="#111" stroke-width="1.2"/>
<line x1="442.20" y1="4.50" x2="446.80" y2="4.50" stroke="#111" stroke-width="1.2"/>
<line x1="442.20" y1="165.70" x2="446.80" y2="165.70" stroke="#111" stroke-width="1.2"/>
<line x1="442.20" y1="153.20" x2="446.80" y2="153.20" stroke="#111" stroke-width="1.2"/>
<line x1="442.20" y1="140.70" x2="446.80" y2="140.70" stroke="#111" stroke-width="1.2"/>
<line x1="442.20" y1="128.20" x2="446.80" y2="128.20" stroke="#111" stroke-width="1.2"/>
<line x1="442.20" y1="115.70" x2="446.80" y2="115.70" stroke="#111" stroke-width="1.2"/>
<line x1="442.20" y1="103.20" x2="446.80" y2="103.20" stroke="#111" stroke-width="1.2"/>
<line x1="442.20" y1="90.70" x2="446.80" y2="90.70" stroke="#111" stroke-width="1.2"/>
<line x1="442.20" y1="248.50" x2="446.80" y2="248.50" stroke="#111" stroke-width="1.2"/>
<line x1="442.20" y1="237.60" x2="446.80" y2="237.60" stroke="#111" stroke-width="1.2"/>
<line x1="442.20" y1="226.70" x2="446.80" y2="226.70" stroke="#111" stroke-width="1.2"/>
<line x1="442.20" y1="215.80" x2="446.80" y2="215.80" stroke="#111" stroke-width="1.2"/>
<line x1="442.20" y1="204.90" x2="446.80" y2="204.90" stroke="#111" stroke-width="1.2"/>
<line x1="442.20" y1="194.00" x2="446.80" y2="194.00" stroke="#111" stroke-width="1.2"/>
<line x1="442.20" y1="183.10" x2="446.80" y2="183.10" stroke="#111" stroke-width="1.2"/>
<line x1="442.20" y1="172.20" x2="446.80" y2="172.20" stroke="#111" stroke-width="1.2"/>
<line x1="442.20" y1="331.00" x2="446.80" y2="331.00" stroke="#111" stroke-width="1.2"/>
<line x1="442.20" y1="320.50" x2="446.80" y2="320.50" stroke="#111" stroke-width="1.2"/>
<line x1="442.20" y1="310.00" x2="446.80" y2="310.00" stroke="#111" stroke-width="1.2"/>
<line x1="442.20" y1="299.50" x2="446.80" y2="299.50" stroke="#111" stroke-width="1.2"/>
<line x1="442.20" y1="289.00" x2="446.80" y2="289.00" stroke="#111" stroke-width="1.2"/>
<line x1="442.20" y1="278.50" x2="446.80" y2="278.50" stroke="#111" stroke-width="1.2"/>
<line x1="442.20" y1="268.00" x2="446.80" y2="268.00" stroke="#111" stroke-width="1.2"/>
<line x1="442.20" y1="257.50" x2="446.80" y2="257.50" stroke="#111" stroke-width="1.2"/>
<line x1="441.50" y1="82.90" x2="544.80" y2="82.90" stroke="#111" stroke-width="1.3"/>
<line x1="446.90" y1="82.90" x2="446.90" y2="86.80" stroke="#333" stroke-width="1.0"/>
<line x1="453.85" y1="82.90" x2="453.85" y2="86.80" stroke="#333" stroke-width="1.0"/>
<line x1="460.80" y1="82.90" x2="460.80" y2="88.20" stroke="#333" stroke-width="1.0"/>
<line x1="467.75" y1="82.90" x2="467.75" y2="86.80" stroke="#333" stroke-width="1.0"/>
<line x1="474.70" y1="82.90" x2="474.70" y2="86.80" stroke="#333" stroke-width="1.0"/>
<line x1="481.65" y1="82.90" x2="481.65" y2="86.80" stroke="#333" stroke-width="1.0"/>
<line x1="488.60" y1="82.90" x2="488.60" y2="86.80" stroke="#333" stroke-width="1.0"/>
<line x1="495.55" y1="82.90" x2="495.55" y2="86.80" stroke="#333" stroke-width="1.0"/>
<line x1="502.50" y1="82.90" x2="502.50" y2="86.80" stroke="#333" stroke-width="1.0"/>
<line x1="509.45" y1="82.90" x2="509.45" y2="86.80" stroke="#333" stroke-width="1.0"/>
<line x1="516.40" y1="82.90" x2="516.40" y2="86.80" stroke="#333" stroke-width="1.0"/>
<line x1="523.35" y1="82.90" x2="523.35" y2="86.80" stroke="#333" stroke-width="1.0"/>
<line x1="530.30" y1="82.90" x2="530.30" y2="88.20" stroke="#333" stroke-width="1.0"/>
<line x1="537.25" y1="82.90" x2="537.25" y2="86.80" stroke="#333" stroke-width="1.0"/>
<line x1="544.20" y1="82.90" x2="544.20" y2="86.80" stroke="#333" stroke-width="1.0"/>
<line x1="441.50" y1="165.70" x2="544.80" y2="165.70" stroke="#111" stroke-width="1.3"/>
<line x1="446.90" y1="165.70" x2="446.90" y2="169.60" stroke="#333" stroke-width="1.0"/>
<line x1="453.85" y1="165.70" x2="453.85" y2="169.60" stroke="#333" stroke-width="1.0"/>
<line x1="460.80" y1="165.70" x2="460.80" y2="171.00" stroke="#333" stroke-width="1.0"/>
<line x1="467.75" y1="165.70" x2="467.75" y2="169.60" stroke="#333" stroke-width="1.0"/>
<line x1="474.70" y1="165.70" x2="474.70" y2="169.60" stroke="#333" stroke-width="1.0"/>
<line x1="481.65" y1="165.70" x2="481.65" y2="169.60" stroke="#333" stroke-width="1.0"/>
<line x1="488.60" y1="165.70" x2="488.60" y2="169.60" stroke="#333" stroke-width="1.0"/>
<line x1="495.55" y1="165.70" x2="495.55" y2="169.60" stroke="#333" stroke-width="1.0"/>
<line x1="502.50" y1="165.70" x2="502.50" y2="169.60" stroke="#333" stroke-width="1.0"/>
<line x1="509.45" y1="165.70" x2="509.45" y2="169.60" stroke="#333" stroke-width="1.0"/>
<line x1="516.40" y1="165.70" x2="516.40" y2="169.60" stroke="#333" stroke-width="1.0"/>
<line x1="523.35" y1="165.70" x2="523.35" y2="169.60" stroke="#333" stroke-width="1.0"/>
<line x1="530.30" y1="165.70" x2="530.30" y2="171.00" stroke="#333" stroke-width="1.0"/>
<line x1="537.25" y1="165.70" x2="537.25" y2="169.60" stroke="#333" stroke-width="1.0"/>
<line x1="544.20" y1="165.70" x2="544.20" y2="169.60" stroke="#333" stroke-width="1.0"/>
<line x1="441.50" y1="248.50" x2="544.80" y2="248.50" stroke="#111" stroke-width="1.3"/>
<line x1="446.90" y1="248.50" x2="446.90" y2="252.40" stroke="#333" stroke-width="1.0"/>
<line x1="453.85" y1="248.50" x2="453.85" y2="252.40" stroke="#333" stroke-width="1.0"/>
<line x1="460.80" y1="248.50" x2="460.80" y2="253.80" stroke="#333" stroke-width="1.0"/>
<line x1="467.75" y1="248.50" x2="467.75" y2="252.40" stroke="#333" stroke-width="1.0"/>
<line x1="474.70" y1="248.50" x2="474.70" y2="252.40" stroke="#333" stroke-width="1.0"/>
<line x1="481.65" y1="248.50" x2="481.65" y2="252.40" stroke="#333" stroke-width="1.0"/>
<line x1="488.60" y1="248.50" x2="488.60" y2="252.40" stroke="#333" stroke-width="1.0"/>
<line x1="495.55" y1="248.50" x2="495.55" y2="252.40" stroke="#333" stroke-width="1.0"/>
<line x1="502.50" y1="248.50" x2="502.50" y2="252.40" stroke="#333" stroke-width="1.0"/>
<line x1="509.45" y1="248.50" x2="509.45" y2="252.40" stroke="#333" stroke-width="1.0"/>
<line x1="516.40" y1="248.50" x2="516.40" y2="252.40" stroke="#333" stroke-width="1.0"/>
<line x1="523.35" y1="248.50" x2="523.35" y2="252.40" stroke="#333" stroke-width="1.0"/>
<line x1="530.30" y1="248.50" x2="530.30" y2="253.80" stroke="#333" stroke-width="1.0"/>
<line x1="537.25" y1="248.50" x2="537.25" y2="252.40" stroke="#333" stroke-width="1.0"/>
<line x1="544.20" y1="248.50" x2="544.20" y2="252.40" stroke="#333" stroke-width="1.0"/>
<line x1="179.00" y1="331.00" x2="548.50" y2="331.00" stroke="#000" stroke-width="1.5"/>
<line x1="186.20" y1="331.00" x2="186.20" y2="335.30" stroke="#222" stroke-width="1.1"/>
<line x1="193.06" y1="331.00" x2="193.06" y2="338.40" stroke="#222" stroke-width="1.1"/>
<line x1="199.92" y1="331.00" x2="199.92" y2="335.30" stroke="#222" stroke-width="1.1"/>
<line x1="206.78" y1="331.00" x2="206.78" y2="335.30" stroke="#222" stroke-width="1.1"/>
<line x1="213.64" y1="331.00" x2="213.64" y2="335.30" stroke="#222" stroke-width="1.1"/>
<line x1="220.50" y1="331.00" x2="220.50" y2="335.30" stroke="#222" stroke-width="1.1"/>
<line x1="227.36" y1="331.00" x2="227.36" y2="335.30" stroke="#222" stroke-width="1.1"/>
<line x1="234.22" y1="331.00" x2="234.22" y2="335.30" stroke="#222" stroke-width="1.1"/>
<line x1="241.08" y1="331.00" x2="241.08" y2="335.30" stroke="#222" stroke-width="1.1"/>
<line x1="247.94" y1="331.00" x2="247.94" y2="335.30" stroke="#222" stroke-width="1.1"/>
<line x1="254.80" y1="331.00" x2="254.80" y2="335.30" stroke="#222" stroke-width="1.1"/>
<line x1="261.66" y1="331.00" x2="261.66" y2="338.40" stroke="#222" stroke-width="1.1"/>
<line x1="268.52" y1="331.00" x2="268.52" y2="335.30" stroke="#222" stroke-width="1.1"/>
<line x1="275.38" y1="331.00" x2="275.38" y2="335.30" stroke="#222" stroke-width="1.1"/>
<line x1="282.24" y1="331.00" x2="282.24" y2="335.30" stroke="#222" stroke-width="1.1"/>
<line x1="317.50" y1="331.00" x2="317.50" y2="335.30" stroke="#222" stroke-width="1.1"/>
<line x1="325.32" y1="331.00" x2="325.32" y2="335.30" stroke="#222" stroke-width="1.1"/>
<line x1="333.14" y1="331.00" x2="333.14" y2="335.30" stroke="#222" stroke-width="1.1"/>
<line x1="340.96" y1="331.00" x2="340.96" y2="338.40" stroke="#222" stroke-width="1.1"/>
<line x1="348.78" y1="331.00" x2="348.78" y2="335.30" stroke="#222" stroke-width="1.1"/>
<line x1="356.60" y1="331.00" x2="356.60" y2="335.30" stroke="#222" stroke-width="1.1"/>
<line x1="364.42" y1="331.00" x2="364.42" y2="335.30" stroke="#222" stroke-width="1.1"/>
<line x1="372.24" y1="331.00" x2="372.24" y2="335.30" stroke="#222" stroke-width="1.1"/>
<line x1="380.06" y1="331.00" x2="380.06" y2="338.40" stroke="#222" stroke-width="1.1"/>
<line x1="387.88" y1="331.00" x2="387.88" y2="335.30" stroke="#222" stroke-width="1.1"/>
<line x1="395.70" y1="331.00" x2="395.70" y2="335.30" stroke="#222" stroke-width="1.1"/>
<line x1="446.90" y1="331.00" x2="446.90" y2="335.30" stroke="#222" stroke-width="1.1"/>
<line x1="453.85" y1="331.00" x2="453.85" y2="335.30" stroke="#222" stroke-width="1.1"/>
<line x1="460.80" y1="331.00" x2="460.80" y2="338.40" stroke="#222" stroke-width="1.1"/>
<line x1="467.75" y1="331.00" x2="467.75" y2="335.30" stroke="#222" stroke-width="1.1"/>
<line x1="474.70" y1="331.00" x2="474.70" y2="335.30" stroke="#222" stroke-width="1.1"/>
<line x1="481.65" y1="331.00" x2="481.65" y2="335.30" stroke="#222" stroke-width="1.1"/>
<line x1="488.60" y1="331.00" x2="488.60" y2="335.30" stroke="#222" stroke-width="1.1"/>
<line x1="495.55" y1="331.00" x2="495.55" y2="335.30" stroke="#222" stroke-width="1.1"/>
<line x1="502.50" y1="331.00" x2="502.50" y2="335.30" stroke="#222" stroke-width="1.1"/>
<line x1="509.45" y1="331.00" x2="509.45" y2="335.30" stroke="#222" stroke-width="1.1"/>
<line x1="516.40" y1="331.00" x2="516.40" y2="335.30" stroke="#222" stroke-width="1.1"/>
<line x1="523.35" y1="331.00" x2="523.35" y2="335.30" stroke="#222" stroke-width="1.1"/>
<line x1="530.30" y1="331.00" x2="530.30" y2="338.40" stroke="#222" stroke-width="1.1"/>
<line x1="537.25" y1="331.00" x2="537.25" y2="335.30" stroke="#222" stroke-width="1.1"/>
<line x1="544.20" y1="331.00" x2="544.20" y2="335.30" stroke="#222" stroke-width="1.1"/>
<line x1="293.20" y1="341.30" x2="299.80" y2="317.10" stroke="#000" stroke-width="1.4"/>
<line x1="298.40" y1="341.30" x2="305.30" y2="317.10" stroke="#000" stroke-width="1.4"/>
<line x1="408.30" y1="341.30" x2="415.50" y2="317.10" stroke="#000" stroke-width="1.4"/>
<line x1="413.80" y1="341.30" x2="421.00" y2="317.10" stroke="#000" stroke-width="1.4"/>
<line x1="190.30" y1="47.80" x2="190.30" y2="331.00" stroke="#151515" stroke-width="1.6"/>
<line x1="221.10" y1="47.80" x2="221.10" y2="331.00" stroke="#151515" stroke-width="1.6"/>
<line x1="331.50" y1="47.80" x2="331.50" y2="331.00" stroke="#151515" stroke-width="1.6"/>
<line x1="355.10" y1="47.80" x2="355.10" y2="331.00" stroke="#151515" stroke-width="1.6"/>
<line x1="476.10" y1="47.80" x2="476.10" y2="331.00" stroke="#151515" stroke-width="1.6"/>
<line x1="503.00" y1="47.80" x2="503.00" y2="331.00" stroke="#151515" stroke-width="1.6"/>
<line x1="176.00" y1="17.40" x2="176.00" y2="20.40" stroke="#9fd0f0" stroke-width="0.9"/>
<line x1="176.00" y1="100.00" x2="176.00" y2="103.00" stroke="#9fd0f0" stroke-width="0.9"/>
<line x1="176.00" y1="183.10" x2="176.00" y2="186.10" stroke="#9fd0f0" stroke-width="0.9"/>
<line x1="176.00" y1="246.70" x2="176.00" y2="249.70" stroke="#9fd0f0" stroke-width="0.9"/>
<line x1="176.00" y1="265.60" x2="176.00" y2="268.60" stroke="#9fd0f0" stroke-width="0.9"/>
<line x1="176.00" y1="329.30" x2="176.00" y2="332.30" stroke="#9fd0f0" stroke-width="0.9"/>
<g font-family="Liberation Sans, sans-serif">
<text x="19.26" y="52.00" font-size="17.6" fill="#FF0000" stroke="#FF0000" stroke-width="0.1" textLength="77.01" lengthAdjust="spacingAndGlyphs">Al-etched</text>
<text x="13.07" y="116.70" font-size="17.6" fill="#000" stroke="#000" stroke-width="0.1" textLength="94.62" lengthAdjust="spacingAndGlyphs">C10-COOH</text>
<text x="9.78" y="142.90" font-size="17.6" fill="#000" stroke="#000" stroke-width="0.1" textLength="100.35" lengthAdjust="spacingAndGlyphs">(m/z = 186)</text>
<text x="1.07" y="209.40" font-size="17.6" fill="#F79646" stroke="#F79646" stroke-width="0.1" textLength="119.02" lengthAdjust="spacingAndGlyphs">Cf8-C2-COOH</text>
<text x="9.27" y="234.90" font-size="17.6" fill="#F79646" stroke="#F79646" stroke-width="0.1" textLength="100.86" lengthAdjust="spacingAndGlyphs">(m/z = 492)</text>
<text x="10.06" y="301.40" font-size="17.6" fill="#FF5050" stroke="#FF5050" stroke-width="0.1" textLength="100.44" lengthAdjust="spacingAndGlyphs">Cf10-COOH</text>
<text x="13.87" y="327.60" font-size="17.6" fill="#FF5050" stroke="#FF5050" stroke-width="0.1" textLength="94.31" lengthAdjust="spacingAndGlyphs">(m/z = 564</text>
<text x="247.44" y="352.20" font-size="11.8" fill="#1a1a1a" stroke="#1a1a1a" stroke-width="0.05" textLength="31.53" lengthAdjust="spacingAndGlyphs">185.4</text>
<text x="327.10" y="352.10" font-size="11.8" fill="#1a1a1a" stroke="#1a1a1a" stroke-width="0.05" textLength="32.71" lengthAdjust="spacingAndGlyphs">491.0</text>
<text x="368.00" y="352.10" font-size="11.8" fill="#1a1a1a" stroke="#1a1a1a" stroke-width="0.05" textLength="32.44" lengthAdjust="spacingAndGlyphs">491.5</text>
<text x="450.50" y="352.30" font-size="11.8" fill="#1a1a1a" stroke="#1a1a1a" stroke-width="0.05" textLength="22.09" lengthAdjust="spacingAndGlyphs">386</text>
<text x="520.50" y="352.30" font-size="11.8" fill="#1a1a1a" stroke="#1a1a1a" stroke-width="0.05" textLength="22.08" lengthAdjust="spacingAndGlyphs">388</text>
<text x="316.03" y="383.10" font-size="22.0" fill="#000" stroke="#000" stroke-width="0.12" textLength="18.43" lengthAdjust="spacingAndGlyphs">m</text>
<text x="335.20" y="386.3" font-size="27.4" fill="#000" stroke="#fff" stroke-width="0.45" textLength="8.80" lengthAdjust="spacingAndGlyphs">/</text>
<text x="345.29" y="383.10" font-size="22.0" fill="#000" stroke="#000" stroke-width="0.12" textLength="8.79" lengthAdjust="spacingAndGlyphs">z</text>
<text x="25.50" y="0" font-size="21.5" fill="#000" stroke="#000" stroke-width="0.1" textLength="291.42" lengthAdjust="spacingAndGlyphs" transform="translate(160.2,343) rotate(-90)">Intensity (normalized counts)</text>
<text x="195.02" y="27.10" font-size="18.3" fill="#000" stroke="#000" stroke-width="0.3" textLength="11.06" lengthAdjust="spacingAndGlyphs">C</text>
<text x="206.51" y="32.00" font-size="12.3" fill="#000" stroke="#000" stroke-width="0.3" textLength="14.50" lengthAdjust="spacingAndGlyphs">10</text>
<text x="221.22" y="27.10" font-size="18.3" fill="#000" stroke="#000" stroke-width="0.3" textLength="13.06" lengthAdjust="spacingAndGlyphs">H</text>
<text x="234.85" y="32.00" font-size="12.3" fill="#000" stroke="#000" stroke-width="0.3" textLength="14.27" lengthAdjust="spacingAndGlyphs">21</text>
<text x="249.60" y="27.10" font-size="18.3" fill="#000" stroke="#000" stroke-width="0.3" textLength="40.24" lengthAdjust="spacingAndGlyphs">COO</text>
<text x="289.86" y="20.47" font-size="12.3" fill="#000" stroke="#000" stroke-width="0.1" textLength="4.77" lengthAdjust="spacingAndGlyphs">-</text>
<text x="317.67" y="24.30" font-size="15.3" fill="#F79646" stroke="#F79646" stroke-width="0.3" textLength="10.38" lengthAdjust="spacingAndGlyphs">C</text>
<text x="327.38" y="28.30" font-size="10.3" fill="#F79646" stroke="#F79646" stroke-width="0.3" textLength="6.64" lengthAdjust="spacingAndGlyphs">8</text>
<text x="334.24" y="24.30" font-size="15.3" fill="#F79646" stroke="#F79646" stroke-width="0.3" textLength="7.87" lengthAdjust="spacingAndGlyphs">F</text>
<text x="342.21" y="28.30" font-size="10.3" fill="#F79646" stroke="#F79646" stroke-width="0.3" textLength="12.98" lengthAdjust="spacingAndGlyphs">17</text>
<text x="354.94" y="24.30" font-size="15.3" fill="#F79646" stroke="#F79646" stroke-width="0.3" textLength="6.41" lengthAdjust="spacingAndGlyphs">-</text>
<text x="360.55" y="24.30" font-size="15.3" fill="#F79646" stroke="#F79646" stroke-width="0.3" textLength="10.61" lengthAdjust="spacingAndGlyphs">C</text>
<text x="370.44" y="28.30" font-size="10.3" fill="#F79646" stroke="#F79646" stroke-width="0.3" textLength="7.32" lengthAdjust="spacingAndGlyphs">2</text>
<text x="378.15" y="24.30" font-size="15.3" fill="#F79646" stroke="#F79646" stroke-width="0.3" textLength="11.89" lengthAdjust="spacingAndGlyphs">H</text>
<text x="389.75" y="28.30" font-size="10.3" fill="#F79646" stroke="#F79646" stroke-width="0.3" textLength="5.96" lengthAdjust="spacingAndGlyphs">4</text>
<text x="396.14" y="24.30" font-size="15.3" fill="#F79646" stroke="#F79646" stroke-width="0.3" textLength="5.73" lengthAdjust="spacingAndGlyphs">-</text>
<text x="401.21" y="24.30" font-size="15.3" fill="#F79646" stroke="#F79646" stroke-width="0.3" textLength="35.33" lengthAdjust="spacingAndGlyphs">COO</text>
<text x="436.23" y="18.64" font-size="10.3" fill="#F79646" stroke="#F79646" stroke-width="0.1" textLength="3.55" lengthAdjust="spacingAndGlyphs">-</text>
<text x="454.07" y="27.70" font-size="19.5" fill="#FF5050" stroke="#FF5050" stroke-width="0.3" textLength="11.86" lengthAdjust="spacingAndGlyphs">C</text>
<text x="465.31" y="31.70" font-size="11.7" fill="#FF5050" stroke="#FF5050" stroke-width="0.3" textLength="7.59" lengthAdjust="spacingAndGlyphs">8</text>
<text x="473.37" y="27.70" font-size="19.5" fill="#FF5050" stroke="#FF5050" stroke-width="0.3" textLength="9.12" lengthAdjust="spacingAndGlyphs">F</text>
<text x="483.18" y="31.70" font-size="11.7" fill="#FF5050" stroke="#FF5050" stroke-width="0.3" textLength="13.45" lengthAdjust="spacingAndGlyphs">13</text>
<text x="497.61" y="27.70" font-size="19.5" fill="#FF5050" stroke="#FF5050" stroke-width="0.3" textLength="39.72" lengthAdjust="spacingAndGlyphs">COO</text>
<text x="537.60" y="20.31" font-size="11.7" fill="#FF5050" stroke="#FF5050" stroke-width="0.1" textLength="4.50" lengthAdjust="spacingAndGlyphs">-</text>
</g>
</svg>
</body></html>
